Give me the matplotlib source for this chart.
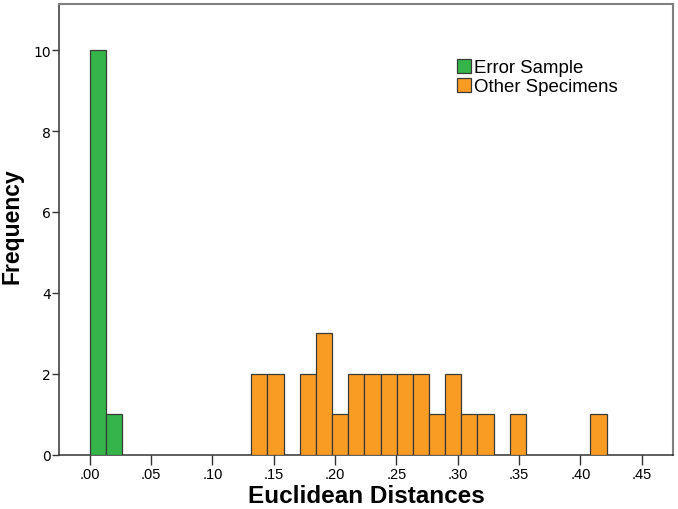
import matplotlib.pyplot as plt
from matplotlib.patches import Patch

# histogram data (SPSS style, equal-width bins starting at 0)
bin_width = 0.01317
error_bins = [0, 1]
error_counts = [10, 1]
other_bins = list(range(10, 32))
other_counts = [2, 2, 0, 2, 3, 1, 2, 2, 2, 2, 2, 1, 2, 1, 1, 0, 1, 0, 0, 0, 0, 1]

x_ticks = [0.00, 0.05, 0.10, 0.15, 0.20, 0.25, 0.30, 0.35, 0.40, 0.45]
x_labels = ['.00', '.05', '.10', '.15', '.20', '.25', '.30', '.35', '.40', '.45']
y_ticks = [0, 2, 4, 6, 8, 10]

green = '#35b44a'
orange = '#f89c24'
edge = '#3a3a3a'


def main():
    plt.rcParams['font.family'] = ['Liberation Sans', 'DejaVu Sans']

    fig = plt.figure(figsize=(6.78, 5.10), dpi=100)
    ax = fig.add_axes([0.0875, 0.1065, 0.9047, 0.8837])

    ax.bar([b * bin_width for b in error_bins], error_counts, width=bin_width,
           align='edge', color=green, edgecolor=edge, linewidth=0.9, zorder=3)
    oth = [(b * bin_width, c) for b, c in zip(other_bins, other_counts) if c > 0]
    ax.bar([o[0] for o in oth], [o[1] for o in oth], width=bin_width,
           align='edge', color=orange, edgecolor=edge, linewidth=0.9, zorder=3)

    ax.set_xlim(-0.0248, 0.4753)
    ax.set_ylim(0, 11.14)
    ax.set_xticks(x_ticks)
    ax.set_xticklabels(x_labels, fontsize=10.5)
    ax.set_yticks(y_ticks)
    ax.set_yticklabels([str(v) for v in y_ticks], fontsize=10, family='DejaVu Sans')
    ax.tick_params(axis='x', length=7, width=1, color='#333333', pad=2)
    ax.tick_params(axis='y', length=5, width=1, color='#333333', pad=1)

    for s in ['left', 'bottom']:
        ax.spines[s].set_color('#333333')
        ax.spines[s].set_linewidth(1.1)
    for s in ['top', 'right']:
        ax.spines[s].set_color('#808080')
        ax.spines[s].set_linewidth(1.5)

    ax.set_xlabel('Euclidean Distances', fontsize=17.5, fontweight='bold', labelpad=2)
    ax.set_ylabel('Frequency', fontsize=16.5, fontweight='bold')
    ax.yaxis.set_label_coords(-0.058, 0.51)

    handles = [Patch(facecolor=green, edgecolor=edge, linewidth=0.9),
               Patch(facecolor=orange, edgecolor=edge, linewidth=0.9)]
    ax.legend(handles, ['Error Sample', 'Other Specimens'], loc='upper left',
              bbox_to_anchor=(0.648, 0.878), frameon=False, fontsize=13.4,
              handlelength=0.75, handleheight=0.75, handletextpad=0.2,
              labelspacing=0.1, borderpad=0, borderaxespad=0)

    fig.savefig('out.png', dpi=100)


if __name__ == '__main__':
    main()
